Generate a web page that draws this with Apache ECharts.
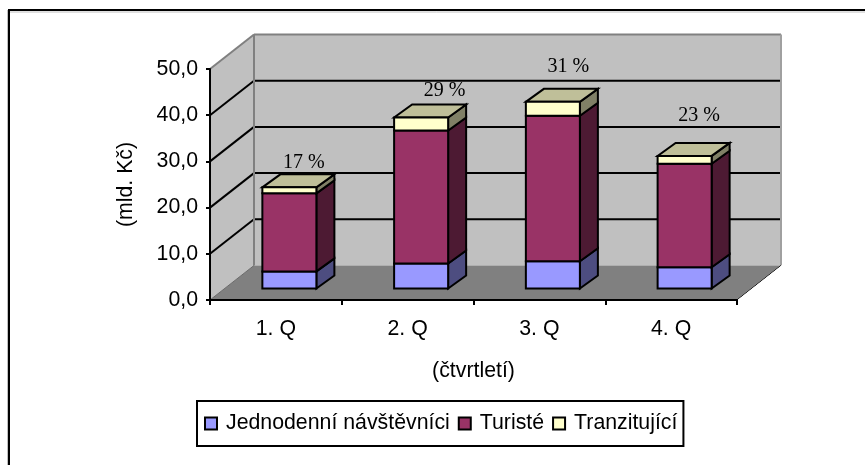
<!DOCTYPE html>
<html>
<head>
<meta charset="utf-8">
<style>html,body{margin:0;padding:0;background:#fff}#c{width:865px;height:465px}</style>
<script src="https://cdn.jsdelivr.net/npm/echarts@6/dist/echarts.min.js"></script>
</head>
<body>
<div id="c"></div>
<script>
var categories = ['1. Q', '2. Q', '3. Q', '4. Q'];
var jednodenni = [3.7, 5.4, 5.9, 4.6];
var turiste = [16.9, 28.8, 31.5, 22.4];
var tranzitujici = [1.3, 2.8, 3.0, 1.7];
var percentLabels = ['17 %', '29 %', '31 %', '23 %'];
var yTicks = [0, 10, 20, 30, 40, 50];

// styling of the pseudo-3D projection (pixels)
var WALL_DX = 44, WALL_DY = -34.5;
var BAR_DX = 13.5, BAR_DY = -11.5;
var SIDE_DX = 18, SIDE_DY = -13;
var BAR_RATIO = 0.41;
var labelShift = [[28, 12], [37, 14], [29, 22], [28, 27]];
var FONT = '"Liberation Sans", Arial, sans-serif';
var SERIF = '"Liberation Serif", "Times New Roman", serif';
var FS = 21.3;

var sums = categories.map(function (_, i) {
  return [jednodenni[i], jednodenni[i] + turiste[i], jednodenni[i] + turiste[i] + tranzitujici[i]];
});

function poly(points, fill, stroke, lw) {
  return {
    type: 'polygon',
    shape: { points: points },
    style: { fill: fill, stroke: stroke || null, lineWidth: lw == null ? 2 : lw, lineJoin: 'miter' }
  };
}
function line(x1, y1, x2, y2, stroke, lw) {
  return {
    type: 'line',
    shape: { x1: x1, y1: y1, x2: x2, y2: y2 },
    style: { stroke: stroke, lineWidth: lw }
  };
}

function renderWalls(params, api) {
  var cs = params.coordSys;
  var L = cs.x, R = cs.x + cs.width;
  var y0 = api.coord([0, 0])[1], yT = api.coord([0, 50])[1];
  var c = [];
  c.push(poly([[L, y0], [L + WALL_DX, y0 + WALL_DY], [L + WALL_DX, yT + WALL_DY], [L, yT]], '#c0c0c0'));
  c.push(poly([[L + WALL_DX, y0 + WALL_DY], [R + WALL_DX, y0 + WALL_DY], [R + WALL_DX, yT + WALL_DY], [L + WALL_DX, yT + WALL_DY]], '#c0c0c0'));
  c.push(poly([[L, y0], [R, y0], [R + WALL_DX, y0 + WALL_DY], [L + WALL_DX, y0 + WALL_DY]], '#808080'));
  yTicks.forEach(function (t) {
    if (t === 0 || t === 50) return;
    var y = api.coord([0, t])[1];
    c.push(line(L, y, L + WALL_DX, y + WALL_DY, '#000', 2));
    c.push(line(L + WALL_DX, y + WALL_DY, R + WALL_DX, y + WALL_DY, '#000', 2));
  });
  c.push(line(L, yT, L + WALL_DX, yT + WALL_DY, '#808080', 2));
  c.push(line(L + WALL_DX, yT + WALL_DY, R + WALL_DX, yT + WALL_DY, '#808080', 2));
  c.push(line(L + WALL_DX, y0 + WALL_DY, L + WALL_DX, yT + WALL_DY, '#808080', 2));
  c.push(line(R + WALL_DX, y0 + WALL_DY, R + WALL_DX, yT + WALL_DY, '#a0a0a0', 2));
  c.push(line(L, y0, L + WALL_DX, y0 + WALL_DY, '#6a6a6a', 1));
  c.push(line(R, y0, R + WALL_DX, y0 + WALL_DY, '#000', 1));
  c.push(line(R + 1, y0, R + WALL_DX + 1, y0 + WALL_DY, '#ffffff', 1));
  return { type: 'group', children: c };
}

function barRenderer(front, side, topFace) {
  return function (params, api) {
    var band = api.size([1, 0])[0];
    var w = band * BAR_RATIO;
    var a = api.coord([api.value(0), api.value(1)]);
    var b = api.coord([api.value(0), api.value(2)]);
    var x0 = a[0] - w / 2 + BAR_DX, x1 = x0 + w;
    var yb = a[1] + BAR_DY, yt = b[1] + BAR_DY;
    var c = [];
    c.push(poly([[x1, yb], [x1 + SIDE_DX, yb + SIDE_DY], [x1 + SIDE_DX, yt + SIDE_DY], [x1, yt]], side, '#000'));
    if (topFace) {
      c.push(poly([[x0, yt], [x1, yt], [x1 + SIDE_DX, yt + SIDE_DY], [x0 + SIDE_DX, yt + SIDE_DY]], topFace, '#000'));
    }
    c.push(poly([[x0, yb], [x1, yb], [x1, yt], [x0, yt]], front, '#000'));
    return { type: 'group', children: c };
  };
}

function segData(lo, hi) {
  return categories.map(function (_, i) { return [i, lo(i), hi(i)]; });
}

var option = {
  animation: false,
  backgroundColor: '#ffffff',
  graphic: [
    { type: 'line', silent: true, shape: { x1: 8, y1: 12, x2: 865, y2: 12 }, style: { stroke: '#c0c0c0', lineWidth: 1 } },
    { type: 'line', silent: true, shape: { x1: 7.5, y1: 10, x2: 7.5, y2: 465 }, style: { stroke: '#c0c0c0', lineWidth: 1 } },
    { type: 'line', silent: true, shape: { x1: 8, y1: 10, x2: 865, y2: 10 }, style: { stroke: '#000', lineWidth: 2 } },
    { type: 'line', silent: true, shape: { x1: 9, y1: 9, x2: 9, y2: 465 }, style: { stroke: '#000', lineWidth: 2 } }
  ],
  grid: { left: 210, top: 69, width: 527, height: 231, containLabel: false },
  xAxis: {
    type: 'category',
    data: categories,
    z: 5,
    name: '(čtvrtletí)',
    nameLocation: 'middle',
    nameGap: 61,
    nameTextStyle: { color: '#000', fontFamily: FONT, fontSize: FS },
    axisLine: { show: true, lineStyle: { color: '#000', width: 2 } },
    axisTick: { show: true, alignWithLabel: false, length: 5, lineStyle: { color: '#000', width: 2 } },
    axisLabel: { color: '#000', fontFamily: FONT, fontSize: FS, margin: 19 },
    splitLine: { show: false }
  },
  yAxis: {
    type: 'value',
    min: 0,
    max: 50,
    interval: 10,
    z: 5,
    name: '(mld. Kč)',
    nameLocation: 'middle',
    nameRotate: 90,
    nameGap: 73,
    nameTextStyle: { color: '#000', fontFamily: FONT, fontSize: FS },
    axisLine: { show: true, lineStyle: { color: '#000', width: 2 } },
    axisTick: { show: true, length: 4, lineStyle: { color: '#000', width: 2 } },
    axisLabel: {
      color: '#000', fontFamily: FONT, fontSize: FS, margin: 12,
      formatter: function (v) { return v.toFixed(1).replace('.', ','); }
    },
    splitLine: { show: false }
  },
  legend: {
    left: 197,
    top: 401,
    orient: 'horizontal',
    data: ['Jednodenní návštěvníci', 'Turisté', 'Tranzitující'],
    icon: 'rect',
    itemWidth: 12,
    itemHeight: 12,
    itemGap: 8,
    padding: [12, 6, 12, 7],
    borderColor: '#000',
    borderWidth: 2,
    backgroundColor: '#fff',
    selectedMode: false,
    itemStyle: { borderColor: '#000', borderWidth: 2 },
    textStyle: { color: '#000', fontFamily: FONT, fontSize: FS, padding: [0, 0, 0, 4] }
  },
  series: [
    {
      name: 'walls', type: 'custom', z: 1, silent: true, clip: false,
      data: [[0, 0, 50]], encode: { x: 0, y: [1, 2] },
      renderItem: renderWalls
    },
    {
      name: 'Jednodenní návštěvníci', type: 'custom', z: 3, clip: false,
      itemStyle: { color: '#9999ff' }, encode: { x: 0, y: [1, 2] },
      data: segData(function () { return 0; }, function (i) { return sums[i][0]; }),
      renderItem: barRenderer('#9999ff', '#4d4d80')
    },
    {
      name: 'Turisté', type: 'custom', z: 3, clip: false,
      itemStyle: { color: '#993366' }, encode: { x: 0, y: [1, 2] },
      data: segData(function (i) { return sums[i][0]; }, function (i) { return sums[i][1]; }),
      renderItem: barRenderer('#993366', '#4d1a33')
    },
    {
      name: 'Tranzitující', type: 'custom', z: 3, clip: false,
      itemStyle: { color: '#ffffcc' }, encode: { x: 0, y: [1, 2] },
      data: segData(function (i) { return sums[i][1]; }, function (i) { return sums[i][2]; }),
      renderItem: barRenderer('#ffffcc', '#808066', '#bfbf99')
    },
    {
      name: 'Podíl', type: 'custom', z: 4, clip: false,
      encode: { x: 0, y: 1 },
      data: categories.map(function (_, i) { return [i, sums[i][2]]; }),
      renderItem: function (params, api) {
        var p = api.coord([api.value(0), api.value(1)]);
        var s = labelShift[params.dataIndex];
        return {
          type: 'text',
          x: p[0] + s[0],
          y: p[1] + BAR_DY + SIDE_DY - s[1],
          style: {
            text: percentLabels[params.dataIndex],
            fill: '#000', font: '20px ' + SERIF,
            textAlign: 'center', textVerticalAlign: 'middle'
          }
        };
      }
    }
  ]
};
var chart = echarts.init(document.getElementById('c'), null, { renderer: 'canvas' });
chart.setOption(option);
</script>
</body>
</html>
